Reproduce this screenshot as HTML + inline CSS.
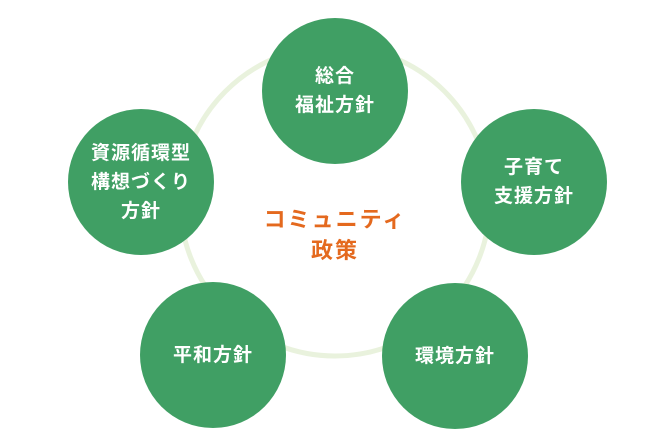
<!DOCTYPE html>
<html><head><meta charset="utf-8"><style>
html,body{margin:0;padding:0;background:#fff;}
body{width:670px;height:446px;position:relative;overflow:hidden;font-family:"Liberation Sans","Noto Sans CJK JP",sans-serif;}
.c{position:absolute;width:146px;height:146px;border-radius:50%;background:#409f64;color:#fff;font-weight:bold;font-size:19px;line-height:29px;display:flex;align-items:center;justify-content:center;text-align:center;letter-spacing:1px;}
.m{position:absolute;left:225px;top:204px;width:220px;text-align:center;color:#e4691e;font-weight:bold;font-size:22px;line-height:31px;letter-spacing:2px;}
</style></head><body>
<svg width="670" height="446" style="position:absolute;left:0;top:0">
<circle cx="335" cy="201" r="155" fill="none" stroke="#e9f2dd" stroke-width="5"/>
</svg>
<div class="c" style="left:262px;top:18px">総合<br>福祉方針</div>
<div class="c" style="left:461px;top:109px">子育て<br>支援方針</div>
<div class="c" style="left:68px;top:109px">資源循環型<br>構想づくり<br>方針</div>
<div class="c" style="left:140px;top:282px">平和方針</div>
<div class="c" style="left:382px;top:283px">環境方針</div>
<div class="m">コミュニティ<br>政策</div>
</body></html>
